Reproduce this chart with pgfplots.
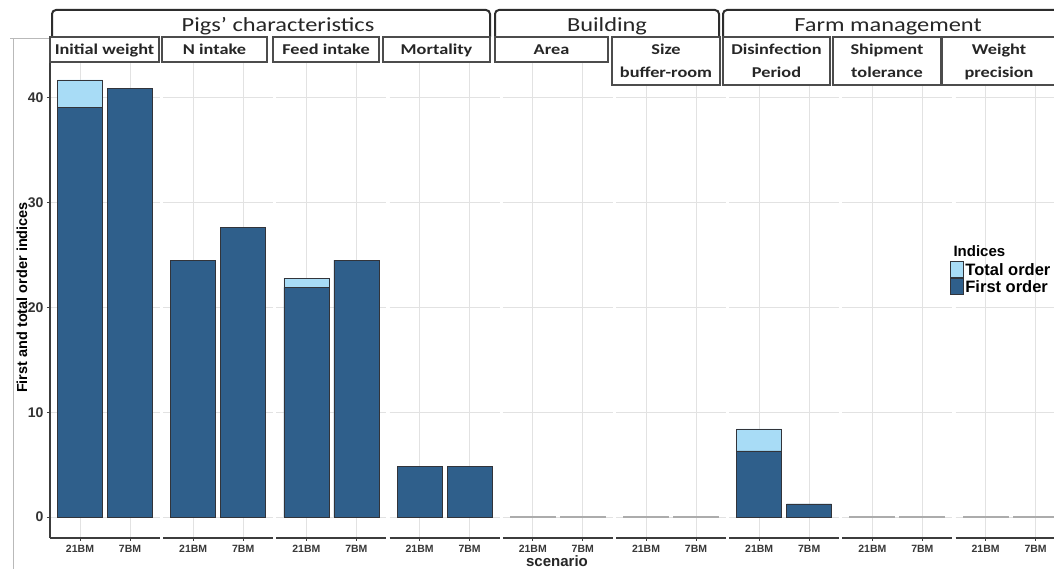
\documentclass[border=0pt]{standalone}
\usepackage{pgfplots}
\pgfplotsset{compat=1.18}
\usepackage{fontspec}
\setmainfont{Liberation Sans}
\newfontfamily\stripfont[FakeStretch=1.22]{Carlito}
\definecolor{darkc}{RGB}{47,95,139}
\definecolor{lightc}{RGB}{168,220,246}
\definecolor{edgec}{RGB}{50,52,58}
\definecolor{gridc}{RGB}{226,226,226}
\definecolor{axc}{RGB}{60,60,60}
\definecolor{stripc}{RGB}{45,45,45}

\pgfplotsset{
  facet/.style={
    scale only axis, width=110pt, height=478pt, anchor=south west,
    xmin=0.4, xmax=2.6, ymin=-2.0, ymax=43.6,
    axis x line*=bottom, axis y line*=left,
    xtick={1,2}, xticklabels={21BM,7BM},
    ytick={0,10,20,30,40},
    grid=major, major grid style={gridc, line width=1pt},
    axis line style={axc, line width=1.1pt},
    tick style={axc, line width=0.8pt},
    major tick length=3pt, tick align=outside,
    xticklabel style={font=\bfseries\fontsize{10.5}{10.5}\selectfont, text=black!78, yshift=-1pt},
    yticklabel style={font=\bfseries\fontsize{14}{14}\selectfont, text=black!80},
    /pgf/number format/assume math mode=true,
  },
  inner/.style={y axis line style={draw=none}, yticklabels={}, ytick style={draw=none}},
  tot/.style={ybar, bar shift=0pt, bar width=0.9, fill=lightc, draw=edgec, line width=0.8pt},
  fir/.style={ybar, bar shift=0pt, bar width=0.9, fill=darkc, draw=edgec, line width=0.8pt},
  zer/.style={ybar, bar shift=0pt, bar width=0.9, fill=darkc, draw=gray!65, line width=1pt},
}

\begin{document}
\begin{tikzpicture}
\path[use as bounding box] (0pt,0pt) rectangle (1054pt,569pt);
\clip (0pt,0pt) rectangle (1054pt,569pt);
\fill[white] (0pt,0pt) rectangle (1054pt,569pt);
\draw[gray!55, line width=1pt] (10pt,530pt) -- (50pt,530pt);
\draw[gray!55, line width=1pt] (13pt,530pt) -- (13pt,0pt);

% Initial weight
\begin{axis}[facet, at={(50pt,31pt)}]
\addplot[tot] coordinates {(1,41.7) (2,40.9)};
\addplot[fir] coordinates {(1,39.1) (2,40.9)};
\end{axis}
% N intake
\begin{axis}[facet, inner, at={(163.2pt,31pt)}]
\addplot[tot] coordinates {(1,24.5) (2,27.6)};
\addplot[fir] coordinates {(1,24.5) (2,27.6)};
\end{axis}
% Feed intake
\begin{axis}[facet, inner, at={(276.4pt,31pt)}]
\addplot[tot] coordinates {(1,22.8) (2,24.5)};
\addplot[fir] coordinates {(1,21.9) (2,24.5)};
\end{axis}
% Mortality
\begin{axis}[facet, inner, at={(389.6pt,31pt)}]
\addplot[tot] coordinates {(1,4.8) (2,4.8)};
\addplot[fir] coordinates {(1,4.8) (2,4.8)};
\end{axis}
% Area
\begin{axis}[facet, inner, at={(502.8pt,31pt)}]
\addplot[zer] coordinates {(1,0.05) (2,0.05)};
\end{axis}
% Size buffer-room
\begin{axis}[facet, inner, at={(616pt,31pt)}]
\addplot[zer] coordinates {(1,0.05) (2,0.05)};
\end{axis}
% Disinfection period
\begin{axis}[facet, inner, at={(729.2pt,31pt)}]
\addplot[tot] coordinates {(1,8.4) (2,1.25)};
\addplot[fir] coordinates {(1,6.3) (2,1.25)};
\end{axis}
% Shipment tolerance
\begin{axis}[facet, inner, at={(842.4pt,31pt)}]
\addplot[zer] coordinates {(1,0.05) (2,0.05)};
\end{axis}
% Weight precision
\begin{axis}[facet, inner, at={(955.6pt,31pt)},
  legend style={at={(rel axis cs:-0.05,0.5795)}, anchor=north west, draw=none, fill=none,
    inner sep=0pt, outer sep=0pt, row sep=0pt,
    font=\bfseries\fontsize{16.5}{16.5}\selectfont,
    nodes={inner xsep=1.5pt, inner ysep=0pt, text depth=0pt}},
  legend cell align=left,
  legend image code/.code={\draw[#1] (0pt,-8pt) rectangle (13pt,8pt);}]
\addplot[zer, forget plot] coordinates {(1,0.05) (2,0.05)};
\addlegendimage{fill=lightc, draw=edgec, line width=0.8pt}
\addlegendentry{Total order}
\addlegendimage{fill=darkc, draw=edgec, line width=0.8pt}
\addlegendentry{First order}
\end{axis}

\begin{scope}[x=1pt, y=1pt]
\node[anchor=base west, font=\bfseries\fontsize{15}{15}\selectfont] at (950,312) {Indices};
\node[rotate=90, font=\bfseries\fontsize{14.5}{14.5}\selectfont] at (22,271.5) {First and total order indices};
\node[anchor=base, font=\bfseries\fontsize{15}{15}\selectfont, text=black!85] at (557,2) {scenario};

% top-level strips
\begin{scope}[line width=2pt, draw=stripc, rounded corners=4pt]
\draw (52,532) -- (52,559) -- (490,559) -- (490,532);
\draw (495,532) -- (495,559) -- (719,559) -- (719,532);
\draw (723,532) -- (723,559) -- (1070,559) -- (1070,532);
\end{scope}
\begin{scope}[font=\stripfont\fontsize{20}{20}\selectfont, text=black!85]
\node[anchor=base] at (278,537) {Pigs’ characteristics};
\node[anchor=base] at (607,537) {Building};
\node[anchor=base] at (888,537) {Farm management};
\end{scope}
% second-level strips
\begin{scope}[line width=1.5pt, draw=black!70, fill=white]
\filldraw (50,507) rectangle (159,532);
\filldraw (162,507) rectangle (267,532);
\filldraw (273,507) rectangle (379,532);
\filldraw (383,507) rectangle (490,532);
\filldraw (495,507) rectangle (608,532);
\filldraw (612,484) rectangle (720,532);
\filldraw (723,484) rectangle (830,532);
\filldraw (833,484) rectangle (941,532);
\filldraw (942,484) rectangle (1070,532);
\end{scope}
\begin{scope}[font=\stripfont\bfseries\fontsize{15}{15}\selectfont, text=black!85]
\node[anchor=base] at (104.5,514) {Initial weight};
\node[anchor=base] at (214.5,514) {N intake};
\node[anchor=base] at (326,514) {Feed intake};
\node[anchor=base] at (436.5,514) {Mortality};
\node[anchor=base] at (551.5,514) {Area};
\node[anchor=base] at (666,514) {Size};
\node[anchor=base] at (666,491) {buffer-room};
\node[anchor=base] at (776.5,514) {Disinfection};
\node[anchor=base] at (776.5,491) {Period};
\node[anchor=base] at (887,514) {Shipment};
\node[anchor=base] at (887,491) {tolerance};
\node[anchor=base] at (999,514) {Weight};
\node[anchor=base] at (999,491) {precision};
\end{scope}
\end{scope}
\end{tikzpicture}
\end{document}
